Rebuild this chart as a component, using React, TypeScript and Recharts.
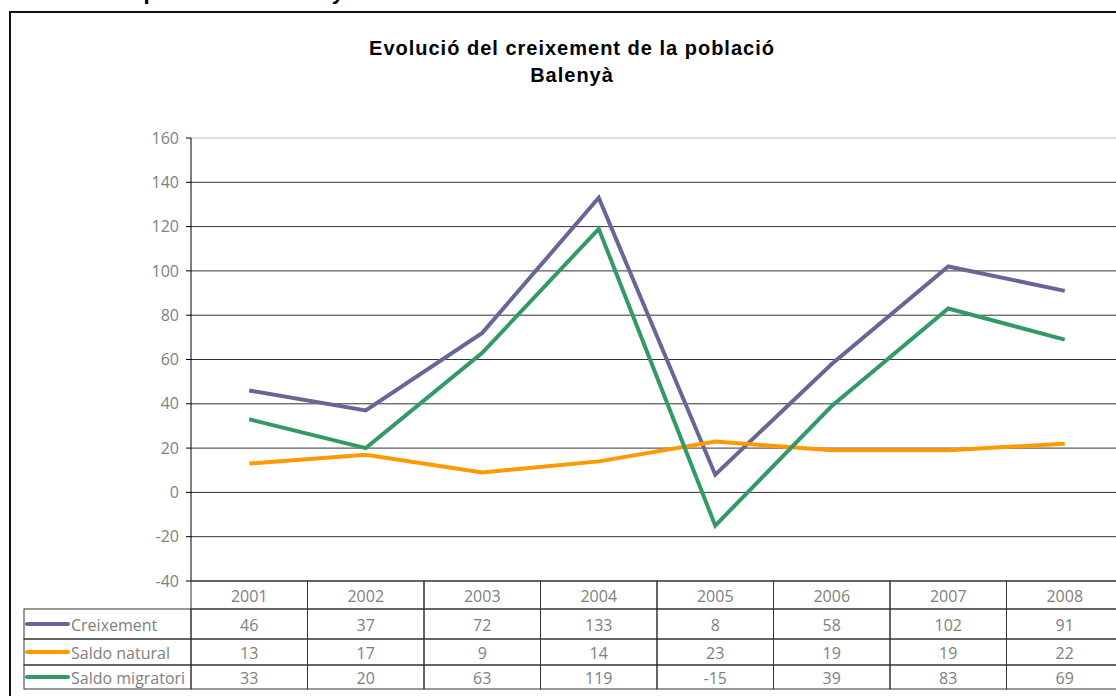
import React from 'react';
import {
  LineChart,
  Line,
  XAxis,
  YAxis,
  CartesianGrid,
  ReferenceLine,
} from 'recharts';

const years = ['2001', '2002', '2003', '2004', '2005', '2006', '2007', '2008'];
const creixement = [46, 37, 72, 133, 8, 58, 102, 91];
const saldoNatural = [13, 17, 9, 14, 23, 19, 19, 22];
const saldoMigratori = [33, 20, 63, 119, -15, 39, 83, 69];
const yTicks = [-40, -20, 0, 20, 40, 60, 80, 100, 120, 140, 160];

const COLORS = {
  creixement: '#666699',
  natural: '#ff9900',
  migratori: '#339966',
};

const data = years.map((year, i) => ({
  year,
  creixement: creixement[i],
  natural: saldoNatural[i],
  migratori: saldoMigratori[i],
}));

const FONT = '"Open Sans", sans-serif';
const TEXT_GREY = '#808080';
const CELL_STROKE = '#333';
const LABEL_LEFT = 24;

// one table row drawn as the ticks of an extra x axis
const rowTick = (values: (string | number)[], rowH: number, label?: string, color?: string) =>
  (props: any) => {
    const { x, y, payload } = props;
    const idx = payload.index;
    const half = payload.offset || 58.25;
    const left = x - half;
    return (
      <g>
        <rect x={left} y={y} width={half * 2} height={rowH} fill="none" stroke={CELL_STROKE} strokeWidth={1} />
        <text
          x={x}
          y={y + rowH / 2 + 1}
          textAnchor="middle"
          dominantBaseline="central"
          fill={TEXT_GREY}
          fontSize={16}
          fontFamily={FONT}
        >
          {values[idx]}
        </text>
        {idx === 0 && label && (
          <g>
            <rect x={LABEL_LEFT} y={y} width={left - LABEL_LEFT} height={rowH} fill="none" stroke={CELL_STROKE} strokeWidth={1} />
            <line x1={27} x2={68} y1={y + rowH / 2} y2={y + rowH / 2} stroke={color} strokeWidth={4} strokeLinecap="round" />
            <text x={71} y={y + rowH / 2 + 1} dominantBaseline="central" fill={TEXT_GREY} fontSize={16} fontFamily={FONT}>
              {label}
            </text>
          </g>
        )}
      </g>
    );
  };

const HeaderTick = rowTick(years, 28);
const CreixTick = rowTick(creixement, 30, 'Creixement', COLORS.creixement);
const NaturalTick = rowTick(saldoNatural, 26, 'Saldo natural', COLORS.natural);
const MigrTick = rowTick(saldoMigratori, 24, 'Saldo migratori', COLORS.migratori);

export default function App() {
  return (
    <div
      style={{
        position: 'fixed',
        left: 0,
        top: 0,
        width: 1116,
        height: 696,
        overflow: 'hidden',
        background: '#fff',
        fontFamily: '"Liberation Sans", Arial, sans-serif',
      }}
    >
      <div
        style={{
          position: 'absolute',
          left: 69,
          top: -19,
          fontSize: 22,
          lineHeight: '22px',
          fontWeight: 'bold',
          color: '#000',
          whiteSpace: 'nowrap',
        }}
      >
        2.1. La població de Balenyà
      </div>
      <div
        style={{
          position: 'absolute',
          left: 9,
          top: 11,
          width: 1200,
          height: 800,
          border: '2px solid #111',
          boxSizing: 'border-box',
        }}
      />
      <div
        style={{
          position: 'absolute',
          left: 272,
          top: 35,
          width: 600,
          textAlign: 'center',
          fontSize: 20,
          lineHeight: '27px',
          fontWeight: 'bold',
          letterSpacing: 1,
          color: '#000',
        }}
      >
        <div>Evolució del creixement de la població</div>
        <div>Balenyà</div>
      </div>
      <div style={{ position: 'absolute', left: 0, top: 0 }}>
        <LineChart
          width={1130}
          height={696}
          data={data}
          margin={{ top: 138, right: 7, bottom: 7, left: 0 }}
        >
          <CartesianGrid
            vertical={false}
            stroke="#333"
            horizontalValues={yTicks.filter((t) => t !== 160)}
          />
          <ReferenceLine y={160} stroke="#dddddd" strokeWidth={2} />
          <YAxis
            width={191}
            domain={[-40, 160]}
            ticks={yTicks}
            interval={0}
            axisLine={{ stroke: '#000' }}
            tickLine={{ stroke: '#000' }}
            tickSize={5}
            tickMargin={7}
            tick={{ fill: TEXT_GREY, fontSize: 16, fontFamily: FONT }}
          />
          <XAxis dataKey="year" scale="band" height={28} tickSize={0} tickMargin={0} axisLine={false} interval={0} tick={HeaderTick} />
          <XAxis dataKey="year" scale="band" xAxisId="r1" height={30} tickSize={0} tickMargin={0} axisLine={false} interval={0} tick={CreixTick} />
          <XAxis dataKey="year" scale="band" xAxisId="r2" height={26} tickSize={0} tickMargin={0} axisLine={false} interval={0} tick={NaturalTick} />
          <XAxis dataKey="year" scale="band" xAxisId="r3" height={24} tickSize={0} tickMargin={0} axisLine={false} interval={0} tick={MigrTick} />
          <Line dataKey="creixement" stroke={COLORS.creixement} strokeWidth={4} dot={false} isAnimationActive={false} />
          <Line dataKey="natural" stroke={COLORS.natural} strokeWidth={4} dot={false} isAnimationActive={false} />
          <Line dataKey="migratori" stroke={COLORS.migratori} strokeWidth={4} dot={false} isAnimationActive={false} />
        </LineChart>
      </div>
    </div>
  );
}
